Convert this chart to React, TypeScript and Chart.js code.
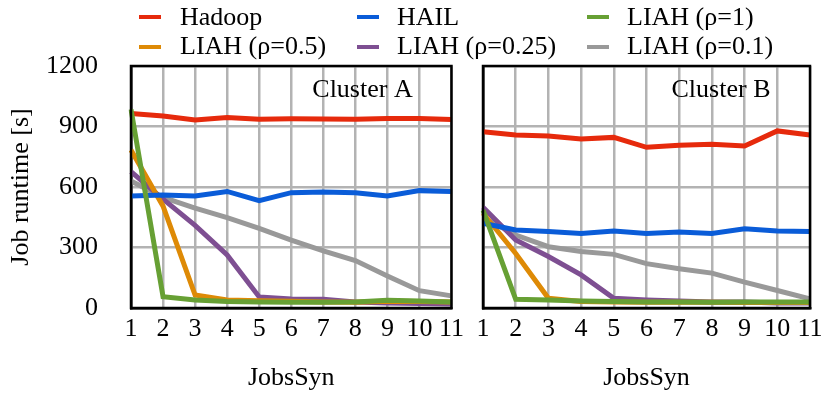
import React, { useEffect, useRef } from 'react';
import { Chart, registerables } from 'chart.js';

Chart.register(...registerables);

const jobs = ['1', '2', '3', '4', '5', '6', '7', '8', '9', '10', '11'];
const yMin = 0;
const yMax = 1200;
const yStep = 300;

const seriesNames = ['Hadoop', 'HAIL', 'LIAH (ρ=1)', 'LIAH (ρ=0.5)', 'LIAH (ρ=0.25)', 'LIAH (ρ=0.1)'];
const seriesColors = ['#e62a0c', '#0a5cd8', '#67a034', '#de8a06', '#7e4f92', '#999999'];
const seriesOrder = [1, 2, 0, 3, 4, 5];

// Cluster A
const hadoopA = [965, 952, 932, 945, 936, 938, 937, 936, 940, 940, 935];
const hailA = [555, 560, 555, 578, 532, 572, 575, 572, 555, 582, 578];
const liah1A = [985, 56, 40, 32, 30, 28, 28, 30, 38, 35, 30];
const liah05A = [783, 505, 64, 40, 36, 33, 30, 28, 34, 32, 30];
const liah025A = [676, 540, 410, 263, 55, 45, 43, 30, 25, 22, 20];
const liah01A = [630, 548, 495, 448, 395, 337, 283, 235, 159, 86, 60];

// Cluster B
const hadoopB = [874, 858, 853, 838, 846, 797, 807, 812, 803, 878, 858];
const hailB = [420, 387, 379, 370, 382, 370, 377, 370, 393, 382, 379];
const liah1B = [485, 43, 40, 35, 32, 30, 30, 28, 30, 30, 30];
const liah05B = [470, 270, 48, 32, 30, 28, 28, 28, 27, 27, 27];
const liah025B = [500, 337, 255, 164, 48, 40, 35, 30, 30, 25, 25];
const liah01B = [450, 362, 304, 280, 266, 220, 195, 173, 128, 87, 45];

const FONT = "'Liberation Serif', 'Times New Roman', serif";

type PanelProps = {
  left: number;
  width: number;
  series: number[][];
  label: string;
  showYLabels: boolean;
  axisWidth: number;
  rightPad: number;
};

function Panel({ left, width, series, label, showYLabels, axisWidth, rightPad }: PanelProps) {
  const ref = useRef<HTMLCanvasElement | null>(null);

  useEffect(() => {
    if (!ref.current) return;
    const framePlugin = {
      id: 'frameAndLabel',
      afterDatasetsDraw(chart: any) {
        const { ctx, chartArea } = chart;
        ctx.save();
        ctx.strokeStyle = '#000';
        ctx.lineWidth = 2.5;
        ctx.strokeRect(chartArea.left, chartArea.top, chartArea.right - chartArea.left, chartArea.bottom - chartArea.top);
        ctx.fillStyle = '#000';
        ctx.font = `26px ${FONT}`;
        ctx.textAlign = 'center';
        ctx.textBaseline = 'alphabetic';
        ctx.fillText(label, chartArea.right - 89, chartArea.top + 31);
        ctx.restore();
      },
    };

    const chart = new Chart(ref.current, {
      type: 'line',
      data: {
        labels: jobs,
        datasets: series.map((d, i) => ({
          label: seriesNames[i],
          data: d,
          borderColor: seriesColors[i],
          backgroundColor: seriesColors[i],
          borderWidth: 5,
          pointRadius: 0,
          tension: 0,
          fill: false,
          order: seriesOrder[i],
        })),
      },
      options: {
        responsive: false,
        animation: false,
        devicePixelRatio: 1,
        layout: { padding: { top: 66, right: rightPad, left: 0, bottom: 0 } },
        plugins: {
          legend: { display: false },
          tooltip: { enabled: false },
        },
        scales: {
          x: {
            type: 'category',
            offset: false,
            grid: { color: '#b3b3b3', lineWidth: 2.5, drawTicks: false },
            border: { display: true, color: '#000', width: 2.5 },
            ticks: {
              color: '#000',
              font: { family: FONT, size: 26 },
              padding: 6,
              maxRotation: 0,
              autoSkip: false,
            },
            title: {
              display: true,
              text: 'JobsSyn',
              color: '#000',
              font: { family: FONT, size: 26 },
              padding: { top: 0, bottom: 5 },
            },
            afterFit: (s: any) => {
              s.height = 91;
            },
          },
          y: {
            min: yMin,
            max: yMax,
            grid: { color: '#b3b3b3', lineWidth: 2.5, drawTicks: false },
            border: { display: true, color: '#000', width: 2.5 },
            ticks: {
              display: showYLabels,
              stepSize: yStep,
              color: '#000',
              font: { family: FONT, size: 26 },
              padding: 33,
              callback: (v: any) => String(v),
            },
            title: {
              display: showYLabels,
              text: 'Job runtime [s]',
              color: '#000',
              font: { family: FONT, size: 26 },
              padding: { top: 6, bottom: 0 },
            },
            afterFit: (s: any) => {
              s.width = axisWidth;
            },
          },
        },
      },
      plugins: [framePlugin],
    });
    return () => chart.destroy();
  }, []);

  return (
    <div style={{ position: 'absolute', left, top: 0, width, height: 399 }}>
      <canvas ref={ref} width={width} height={399} style={{ width, height: 399, display: 'block' }} />
    </div>
  );
}

const legendCols = [139, 357, 587];
const legendTextCols = [180, 397, 627];

function Legend() {
  return (
    <>
      {seriesNames.map((name, i) => {
        const col = i % 3;
        const row = Math.floor(i / 3);
        const markerTop = row === 0 ? 15.3 : 44.7;
        const textTop = row === 0 ? 2.2 : 30.5;
        return (
          <React.Fragment key={name}>
            <div
              style={{
                position: 'absolute',
                left: legendCols[col],
                top: markerTop,
                width: 22,
                height: 4,
                background: seriesColors[i],
              }}
            />
            <div
              style={{
                position: 'absolute',
                left: legendTextCols[col],
                top: textTop,
                fontFamily: FONT,
                fontSize: 26,
                lineHeight: '30px',
                color: '#000',
                whiteSpace: 'nowrap',
              }}
            >
              {name}
            </div>
          </React.Fragment>
        );
      })}
    </>
  );
}

export default function App() {
  return (
    <div style={{ position: 'absolute', left: 0, top: 0, width: 831, height: 399, background: '#fff', overflow: 'hidden' }}>
      <Panel
        left={0}
        width={470}
        series={[hadoopA, hailA, liah1A, liah05A, liah025A, liah01A]}
        label="Cluster A"
        showYLabels={true}
        axisWidth={131}
        rightPad={16}
      />
      <Panel
        left={470}
        width={361}
        series={[hadoopB, hailB, liah1B, liah05B, liah025B, liah01B]}
        label="Cluster B"
        showYLabels={false}
        axisWidth={13}
        rightPad={21}
      />
      <Legend />
    </div>
  );
}
